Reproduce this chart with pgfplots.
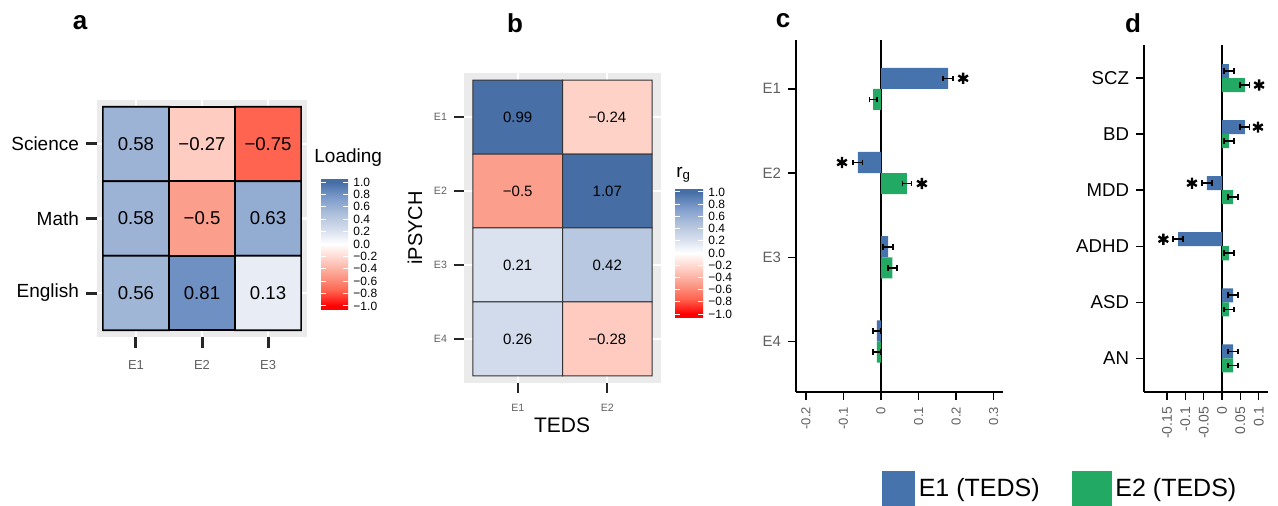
\documentclass[border=0pt]{standalone}
\usepackage{pgfplots}
\pgfplotsset{compat=1.18}
\usepackage{pgfplotstable}
\usepackage{fontspec}
\setmainfont{Liberation Sans}
\definecolor{bgGray}{RGB}{235,235,235}
\definecolor{blueC}{RGB}{70,115,172}
\definecolor{greenC}{RGB}{34,170,100}
\definecolor{txtGray}{RGB}{95,95,95}
\newcommand{\fs}[1]{\fontsize{#1}{#1}\selectfont}

\pgfplotsset{
 colormap={heat}{rgb255(0pt)=(255,0,0) rgb255(13pt)=(255,0,0) rgb255(63pt)=(255,100,80) rgb255(113pt)=(252,158,140) rgb255(163pt)=(255,208,198) rgb255(213pt)=(255,255,255) rgb255(263pt)=(211,220,236) rgb255(313pt)=(172,190,218) rgb255(363pt)=(124,155,203) rgb255(413pt)=(70,110,165) rgb255(426pt)=(70,110,165)},
 cbar/.style={
   scale only axis,
   axis line style={draw=none},
   ytick={-1,-0.8,-0.6,-0.4,-0.2,0,0.2,0.4,0.6,0.8,1},
   yticklabels={−1.0,−0.8,−0.6,−0.4,−0.2,0.0,0.2,0.4,0.6,0.8,1.0},
   yticklabel style={font=\fs{6}, inner sep=0pt, text=black, xshift=2.5pt},
   ytick pos=both, yticklabel pos=right,
   tick align=inside, major tick length=2.7pt, tick style={white, line width=0.5pt},
 },
 heatnum/.style={only marks, mark=none, point meta=explicit symbolic, nodes near coords, nodes near coords align=center, forget plot},
 errc/.style={draw=none, mark=none, forget plot, error bars/.cd, x dir=both, x explicit, error bar style={black, line width=0.8pt}, error mark options={black, line width=0.8pt, mark size=1.4pt, rotate=90}},
 gridw/.style={white, line width=1.2pt, forget plot, unbounded coords=jump},
}

% rows from top (y=0) to bottom; heatmap axes are drawn with y reversed
\pgfplotstableread{
x y c lab
0 0 0.58 0.58
1 0 -0.27 −0.27
2 0 -0.75 −0.75
0 1 0.58 0.58
1 1 -0.5 −0.5
2 1 0.63 0.63
0 2 0.56 0.56
1 2 0.81 0.81
2 2 0.13 0.13
}\heatA

\pgfplotstableread{
x y c lab
0 0 0.99 0.99
1 0 -0.24 −0.24
0 1 -0.5 −0.5
1 1 1.07 1.07
0 2 0.21 0.21
1 2 0.42 0.42
0 3 0.26 0.26
1 3 -0.28 −0.28
}\heatB

\begin{document}
\begin{tikzpicture}
\useasboundingbox (0,0) rectangle (639pt,-253pt);

% ---------------- panel a
\begin{axis}[
  at={(48.5pt,-50pt)}, anchor=north west, scale only axis,
  width=105pt, height=118.5pt,
  xmin=-0.59, xmax=2.59, ymin=-0.59, ymax=2.59, y dir=reverse,
  axis background/.style={fill=bgGray},
  axis line style={draw=none},
  xtick={0,1,2}, xticklabels={E1,E2,E3},
  ytick={0,1,2}, yticklabels={Science,Math,English},
  tick pos=left, tick align=outside, major tick length=5.5pt,
  tick style={black!85, line width=1.5pt},
  xticklabel style={font=\fs{6.5}, text=txtGray, yshift=-2.5pt},
  yticklabel style={font=\fs{9.5}, text=black},
  colormap name=heat, point meta min=-1.065, point meta max=1.065,
  colorbar,
  colorbar style={cbar, at={(parent axis.east)}, anchor=west, xshift=-1.5pt, yshift=-12.75pt, width=13.5pt, height=66pt},
  clip=false,
]
\addplot[gridw] coordinates {(0,-0.59) (0,2.59) (nan,nan) (1,-0.59) (1,2.59) (nan,nan) (2,-0.59) (2,2.59) (nan,nan) (-0.59,0) (2.59,0) (nan,nan) (-0.59,1) (2.59,1) (nan,nan) (-0.59,2) (2.59,2)};
\addplot[matrix plot, mesh/cols=3, point meta=explicit, draw=black, line width=0.8pt] table[x=x,y=y,meta=c]{\heatA};
\addplot[heatnum, every node near coord/.append style={font=\fs{9.3}, text=black}] table[x=x,y=y,meta=lab]{\heatA};
\end{axis}

% ---------------- panel b
\begin{axis}[
  at={(232pt,-36.5pt)}, anchor=north west, scale only axis,
  width=98.5pt, height=155pt,
  xmin=-0.6, xmax=1.6, ymin=-0.595, ymax=3.595, y dir=reverse,
  axis background/.style={fill=bgGray},
  axis line style={draw=none},
  xtick={0,1}, xticklabels={E1,E2},
  ytick={0,1,2,3}, yticklabels={E1,E2,E3,E4},
  tick pos=left, tick align=outside, major tick length=5pt,
  tick style={black!85, line width=1.2pt},
  xticklabel style={font=\fs{5.3}, text=txtGray, yshift=-2pt},
  yticklabel style={font=\fs{5.3}, text=txtGray},
  colormap name=heat, point meta min=-1.065, point meta max=1.065,
  colorbar,
  colorbar style={cbar, at={(parent axis.east)}, anchor=west, xshift=-1.5pt, yshift=-12.5pt, width=14pt, height=65pt},
  clip=false,
]
\addplot[gridw] coordinates {(0,-0.595) (0,3.595) (nan,nan) (1,-0.595) (1,3.595) (nan,nan) (-0.6,0) (1.6,0) (nan,nan) (-0.6,1) (1.6,1) (nan,nan) (-0.6,2) (1.6,2) (nan,nan) (-0.6,3) (1.6,3)};
\addplot[matrix plot, mesh/cols=2, point meta=explicit, draw=black!80, line width=0.5pt] table[x=x,y=y,meta=c]{\heatB};
\addplot[heatnum, every node near coord/.append style={font=\fs{7.5}, text=black}] table[x=x,y=y,meta=lab]{\heatB};
\end{axis}

% ---------------- panel c
\begin{axis}[
  at={(398pt,-20pt)}, anchor=north west, scale only axis,
  width=103.5pt, height=176pt,
  xmin=-0.2267, xmax=0.3253, ymin=0.4, ymax=4.58,
  axis x line=bottom, axis y line=left,
  axis line style={-, black, line width=1pt},
  every outer x axis line/.append style={-}, every outer y axis line/.append style={-},
  xtick={-0.2,-0.1,0,0.1,0.2,0.3}, xticklabels={-0.2,-0.1,0,0.1,0.2,0.3},
  ytick={1,2,3,4}, yticklabels={E4,E3,E2,E1},
  tick align=outside, major tick length=4pt, tick style={black, line width=0.7pt},
  xticklabel style={rotate=90, anchor=east, font=\fs{6.5}, text=txtGray},
  yticklabel style={font=\fs{7.5}, text=txtGray},
  clip=false,
  legend style={at={(rel axis cs:0.4155,-0.2756)}, anchor=west, draw=none, fill=none, inner sep=0pt, outer sep=0pt, legend columns=2, font=\fs{12.5}, /tikz/every even column/.append style={column sep=14pt}},
]
\addlegendimage{legend image code/.code={\fill[blueC] (0pt,-9pt) rectangle (16pt,9pt);}}
\addlegendentry{E1 (TEDS)}
\addlegendimage{legend image code/.code={\fill[greenC] (0pt,-9pt) rectangle (19.5pt,9pt);}}
\addlegendentry{E2 (TEDS)}
\addplot[black, line width=0.8pt, forget plot] coordinates {(0,0.4) (0,4.58)};
\addplot[xbar, bar width=0.25, bar shift=0.125, fill=blueC, draw=none, forget plot]
  coordinates {(0.179,4) (-0.062,3) (0.019,2) (-0.011,1)};
\addplot[xbar, bar width=0.25, bar shift=-0.125, fill=greenC, draw=none, forget plot]
  coordinates {(-0.021,4) (0.069,3) (0.03,2) (-0.011,1)};
\addplot[errc] coordinates {(0.179,4.125) +- (0.013,0) (-0.062,3.125) +- (0.013,0) (0.019,2.125) +- (0.013,0) (-0.011,1.125) +- (0.01,0)};
\addplot[errc] coordinates {(-0.021,3.875) +- (0.01,0) (0.069,2.875) +- (0.012,0) (0.03,1.875) +- (0.012,0) (-0.011,0.875) +- (0.01,0)};
\addplot[only marks, mark=asterisk, mark size=2.8pt, mark options={line width=1.2pt, black}, forget plot]
  coordinates {(0.219,4.125) (-0.104,3.125) (0.109,2.875)};
\end{axis}

% ---------------- panel d
\begin{axis}[
  at={(572pt,-22.5pt)}, anchor=north west, scale only axis,
  width=62pt, height=173.5pt,
  xmin=-0.2127, xmax=0.1254, ymin=0.4, ymax=6.59,
  axis x line=bottom, axis y line=left,
  axis line style={-, black, line width=1pt},
  every outer x axis line/.append style={-}, every outer y axis line/.append style={-},
  xtick={-0.15,-0.1,-0.05,0,0.05,0.1}, xticklabels={-0.15,-0.1,-0.05,0,0.05,0.1},
  ytick={1,2,3,4,5,6}, yticklabels={AN,ASD,ADHD,MDD,BD,SCZ},
  tick align=outside, major tick length=4pt, tick style={black, line width=0.7pt},
  xticklabel style={rotate=90, anchor=east, font=\fs{7}, text=txtGray},
  yticklabel style={font=\fs{9.3}, text=black},
  clip=false,
]
\addplot[black, line width=0.8pt, forget plot] coordinates {(0,0.4) (0,6.59)};
\addplot[xbar, bar width=0.25, bar shift=0.125, fill=blueC, draw=none, forget plot]
  coordinates {(0.019,6) (0.062,5) (-0.041,4) (-0.12,3) (0.03,2) (0.03,1)};
\addplot[xbar, bar width=0.25, bar shift=-0.125, fill=greenC, draw=none, forget plot]
  coordinates {(0.062,6) (0.019,5) (0.03,4) (0.019,3) (0.019,2) (0.03,1)};
\addplot[errc] coordinates {(0.019,6.125) +- (0.013,0) (0.062,5.125) +- (0.013,0) (-0.041,4.125) +- (0.013,0) (-0.12,3.125) +- (0.013,0) (0.03,2.125) +- (0.013,0) (0.03,1.125) +- (0.013,0)};
\addplot[errc] coordinates {(0.062,5.875) +- (0.013,0) (0.019,4.875) +- (0.013,0) (0.03,3.875) +- (0.013,0) (0.019,2.875) +- (0.013,0) (0.019,1.875) +- (0.013,0) (0.03,0.875) +- (0.013,0)};
\addplot[only marks, mark=asterisk, mark size=2.8pt, mark options={line width=1.2pt, black}, forget plot]
  coordinates {(0.101,5.875) (0.098,5.125) (-0.082,4.125) (-0.16,3.125)};
\end{axis}

\node[font=\fs{13}\bfseries] at (40pt,-11.5pt) {a};
\node[font=\fs{13}\bfseries] at (257.5pt,-11.5pt) {b};
\node[font=\fs{13}\bfseries] at (391.5pt,-10.5pt) {c};
\node[font=\fs{13}\bfseries] at (566.5pt,-11.5pt) {d};
\node[font=\fs{9.5}, anchor=west, inner sep=0pt] at (157pt,-79pt) {Loading};
\node[font=\fs{9.5}, anchor=west, inner sep=0pt] at (338pt,-87.5pt) {r\textsubscript{g}};
\node[font=\fs{10.5}] at (281pt,-212.5pt) {TEDS};
\node[font=\fs{10}, rotate=90] at (207.5pt,-114pt) {iPSYCH};
\end{tikzpicture}
\end{document}
